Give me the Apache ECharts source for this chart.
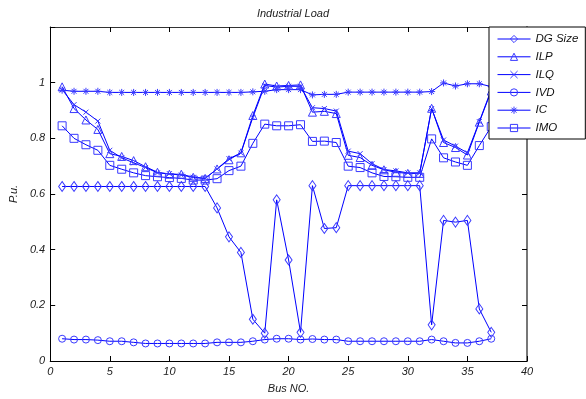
<!DOCTYPE html>
<html>
<head>
<meta charset="utf-8">
<script src="https://cdn.jsdelivr.net/npm/echarts@6/dist/echarts.min.js"></script>
<style>
html,body{margin:0;padding:0;background:#fff;}
#chart{width:586px;height:399px;}
</style>
</head>
<body>
<div id="chart"></div>
<script>
var bus = [1,2,3,4,5,6,7,8,9,10,11,12,13,14,15,16,17,18,19,20,21,22,23,24,25,26,27,28,29,30,31,32,33,34,35,36,37];
var dgSize = [0.627,0.627,0.627,0.627,0.627,0.627,0.627,0.627,0.627,0.627,0.627,0.627,0.627,0.55,0.446,0.39,0.15,0.10,0.579,0.363,0.103,0.63,0.476,0.479,0.63,0.63,0.63,0.63,0.63,0.63,0.63,0.13,0.505,0.499,0.505,0.187,0.103];
var ilp = [0.985,0.907,0.866,0.832,0.745,0.735,0.72,0.698,0.678,0.671,0.671,0.66,0.656,0.69,0.723,0.748,0.882,0.995,0.988,0.99,0.992,0.894,0.897,0.889,0.739,0.731,0.703,0.687,0.678,0.674,0.674,0.908,0.785,0.767,0.74,0.858,0.97];
var ilq = [0.975,0.921,0.894,0.862,0.757,0.73,0.712,0.695,0.676,0.673,0.668,0.66,0.656,0.69,0.727,0.747,0.875,0.99,0.984,0.987,0.987,0.91,0.907,0.898,0.754,0.745,0.709,0.688,0.683,0.676,0.676,0.907,0.794,0.772,0.748,0.86,0.975];
var ivd = [0.080,0.077,0.077,0.075,0.071,0.071,0.067,0.063,0.063,0.063,0.063,0.063,0.063,0.067,0.067,0.067,0.071,0.077,0.080,0.080,0.077,0.079,0.077,0.077,0.071,0.071,0.071,0.071,0.071,0.071,0.071,0.077,0.071,0.065,0.065,0.071,0.080];
var ic = [0.973,0.969,0.969,0.969,0.965,0.965,0.965,0.965,0.965,0.965,0.965,0.965,0.965,0.965,0.965,0.965,0.967,0.969,0.975,0.975,0.975,0.956,0.958,0.958,0.966,0.966,0.966,0.966,0.966,0.966,0.966,0.968,0.999,0.988,0.996,0.996,0.986];
var imo = [0.845,0.80,0.777,0.757,0.703,0.689,0.676,0.666,0.662,0.659,0.656,0.65,0.65,0.655,0.684,0.70,0.782,0.851,0.845,0.845,0.849,0.789,0.79,0.785,0.70,0.695,0.676,0.663,0.662,0.66,0.66,0.798,0.73,0.715,0.703,0.774,0.842];
var seriesNames = ['DG Size','ILP','ILQ','IVD','IC','IMO'];
var xTicks = [0,5,10,15,20,25,30,35,40];
var yTickLabels = ['0','0.2','0.4','0.6','0.8','1'];

function pairs(ys){ return bus.map(function(b,i){ return [b, ys[i]]; }); }

var LINE = '#0000ff';
var MARK = '#3a3aff';
var FONT = 'Liberation Sans, Arial, sans-serif';
var xSym = 'path://M0,0L10,10M10,0L0,10';
var starSym = 'path://M5,0L5,10M0,5L10,5M1.5,1.5L8.5,8.5M8.5,1.5L1.5,8.5';

function mk(name, data, symbol, size){
  return {
    name: name, type: 'line', data: pairs(data), xAxisIndex: 0, yAxisIndex: 0,
    symbol: symbol, symbolSize: size, showAllSymbol: true,
    lineStyle: {color: LINE, width: 1},
    itemStyle: {color: 'rgba(0,0,0,0)', borderColor: MARK, borderWidth: 1},
    emphasis: {disabled: true}, animation: false, z: 3
  };
}

var chart = echarts.init(document.getElementById('chart'), null, {renderer: 'canvas'});
var axisLabelStyle = {fontFamily: FONT, fontStyle: 'italic', fontSize: 11, color: '#222'};
chart.setOption({
  animation: false,
  backgroundColor: '#fff',
  title: {
    text: 'Industrial Load', left: 288, top: 3, textAlign: 'center',
    textStyle: {fontFamily: FONT, fontStyle: 'italic', fontWeight: 'normal', fontSize: 11, color: '#222'}
  },
  grid: {left: 50, right: 59, top: 27, bottom: 34, containLabel: false},
  legend: {
    orient: 'vertical', left: 489, top: 27,
    data: seriesNames,
    itemWidth: 33, itemHeight: 9, itemGap: 5.8,
    backgroundColor: '#fff', borderColor: '#000', borderWidth: 1, borderRadius: 0,
    padding: [6, 7, 5, 8],
    lineStyle: {width: 1, color: LINE},
    itemStyle: {color: 'rgba(0,0,0,0)', borderColor: MARK, borderWidth: 1},
    textStyle: {fontFamily: FONT, fontStyle: 'italic', fontSize: 11.5, color: '#111'},
    selectedMode: false
  },
  xAxis: [{
    type: 'value', min: 0, max: 40, interval: 5,
    name: 'Bus NO.', nameLocation: 'middle', nameGap: 22,
    nameTextStyle: axisLabelStyle,
    axisLine: {lineStyle: {color: '#000', width: 1}},
    axisTick: {inside: true, length: 5, lineStyle: {color: '#000'}},
    axisLabel: Object.assign({margin: 5, formatter: function(v){ return xTicks.indexOf(v) >= 0 ? String(v) : ''; }}, axisLabelStyle),
    splitLine: {show: false}
  },{
    type: 'value', min: 0, max: 40, interval: 5, position: 'top',
    axisLine: {onZero: false, lineStyle: {color: '#333', width: 1}},
    axisTick: {inside: true, length: 5, lineStyle: {color: '#000'}},
    axisLabel: {show: false}, splitLine: {show: false}
  }],
  yAxis: [{
    type: 'value', min: 0, max: 1.2, interval: 0.2,
    name: 'P.u.', nameLocation: 'middle', nameGap: 24, nameRotate: 90,
    nameTextStyle: axisLabelStyle,
    axisLine: {show: true, lineStyle: {color: '#000', width: 1}},
    axisTick: {show: true, inside: true, length: 5, lineStyle: {color: '#000'}},
    axisLabel: Object.assign({margin: 5, formatter: function(v){
      var i = Math.round(v / 0.2);
      return (Math.abs(v - i*0.2) < 1e-6 && i < yTickLabels.length) ? yTickLabels[i] : '';
    }}, axisLabelStyle),
    splitLine: {show: false}
  },{
    type: 'value', min: 0, max: 1.2, interval: 0.2, position: 'right',
    axisLine: {show: true, onZero: false, lineStyle: {color: '#777', width: 2}},
    axisTick: {show: true, inside: true, length: 5, lineStyle: {color: '#000'}},
    axisLabel: {show: false}, splitLine: {show: false}
  }],
  series: [
    mk('DG Size', dgSize, 'diamond', [7, 10]),
    mk('ILP', ilp, 'triangle', 8),
    mk('ILQ', ilq, xSym, 5),
    mk('IVD', ivd, 'circle', 7),
    mk('IC', ic, starSym, 7),
    mk('IMO', imo, 'rect', 8)
  ]
});
</script>
</body>
</html>
